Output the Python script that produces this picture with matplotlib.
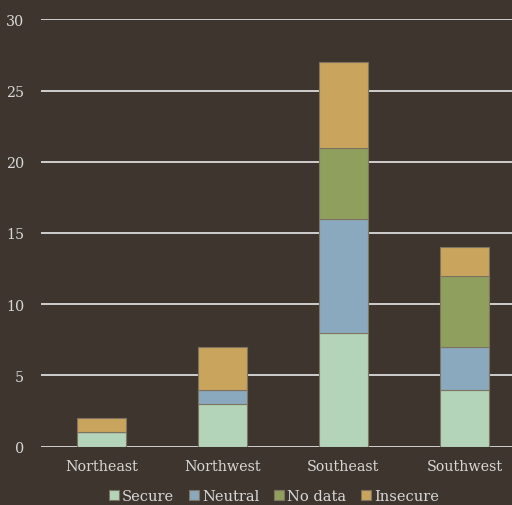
import matplotlib.pyplot as plt
import numpy as np

regions = ["Northeast", "Northwest", "Southeast", "Southwest"]
secure = [1, 3, 8, 4]
neutral = [0, 1, 8, 3]
no_data = [0, 0, 5, 5]
insecure = [1, 3, 6, 2]

series = [("Secure", secure, "#b3d4b8"),
          ("Neutral", neutral, "#8aa8be"),
          ("No data", no_data, "#8fa05e"),
          ("Insecure", insecure, "#c9a45c")]

bg = "#3e362e"
txt = "#d8d8d8"
plt.rcParams['font.family'] = ['DejaVu Serif']

fig = plt.figure(figsize=(5.12, 5.06), dpi=100, facecolor=bg)
ax = fig.add_axes([0.08, 0.1156, 0.945, 0.8439], facecolor=bg)

x = np.arange(len(regions))
bottom = np.zeros(len(regions))
for name, vals, col in series:
    ax.bar(x, vals, 0.4, bottom=bottom, color=col, edgecolor="#7d7360",
           linewidth=0.8, label=name, zorder=3)
    bottom += np.array(vals)

ax.set_xlim(-0.5, 3.5)
ax.set_ylim(0, 30)
ax.set_yticks(range(0, 31, 5))
ax.set_xticks(x)
ax.set_xticklabels(regions)
ax.yaxis.grid(True, color="#e8e8e8", linewidth=1.2, zorder=1)
for s in ax.spines.values():
    s.set_visible(False)
ax.tick_params(axis="both", length=0, colors=txt, labelsize=10.3)
ax.tick_params(axis="x", pad=9)
ax.tick_params(axis="y", pad=12)

leg = fig.legend(loc="lower center", bbox_to_anchor=(0.535, -0.022), ncol=4,
                 frameon=False, fontsize=10.5, handlelength=0.7, handleheight=0.7,
                 handletextpad=0.2, columnspacing=1.0)
for t in leg.get_texts():
    t.set_color(txt)

fig.savefig("out.png", dpi=100, facecolor=bg)
